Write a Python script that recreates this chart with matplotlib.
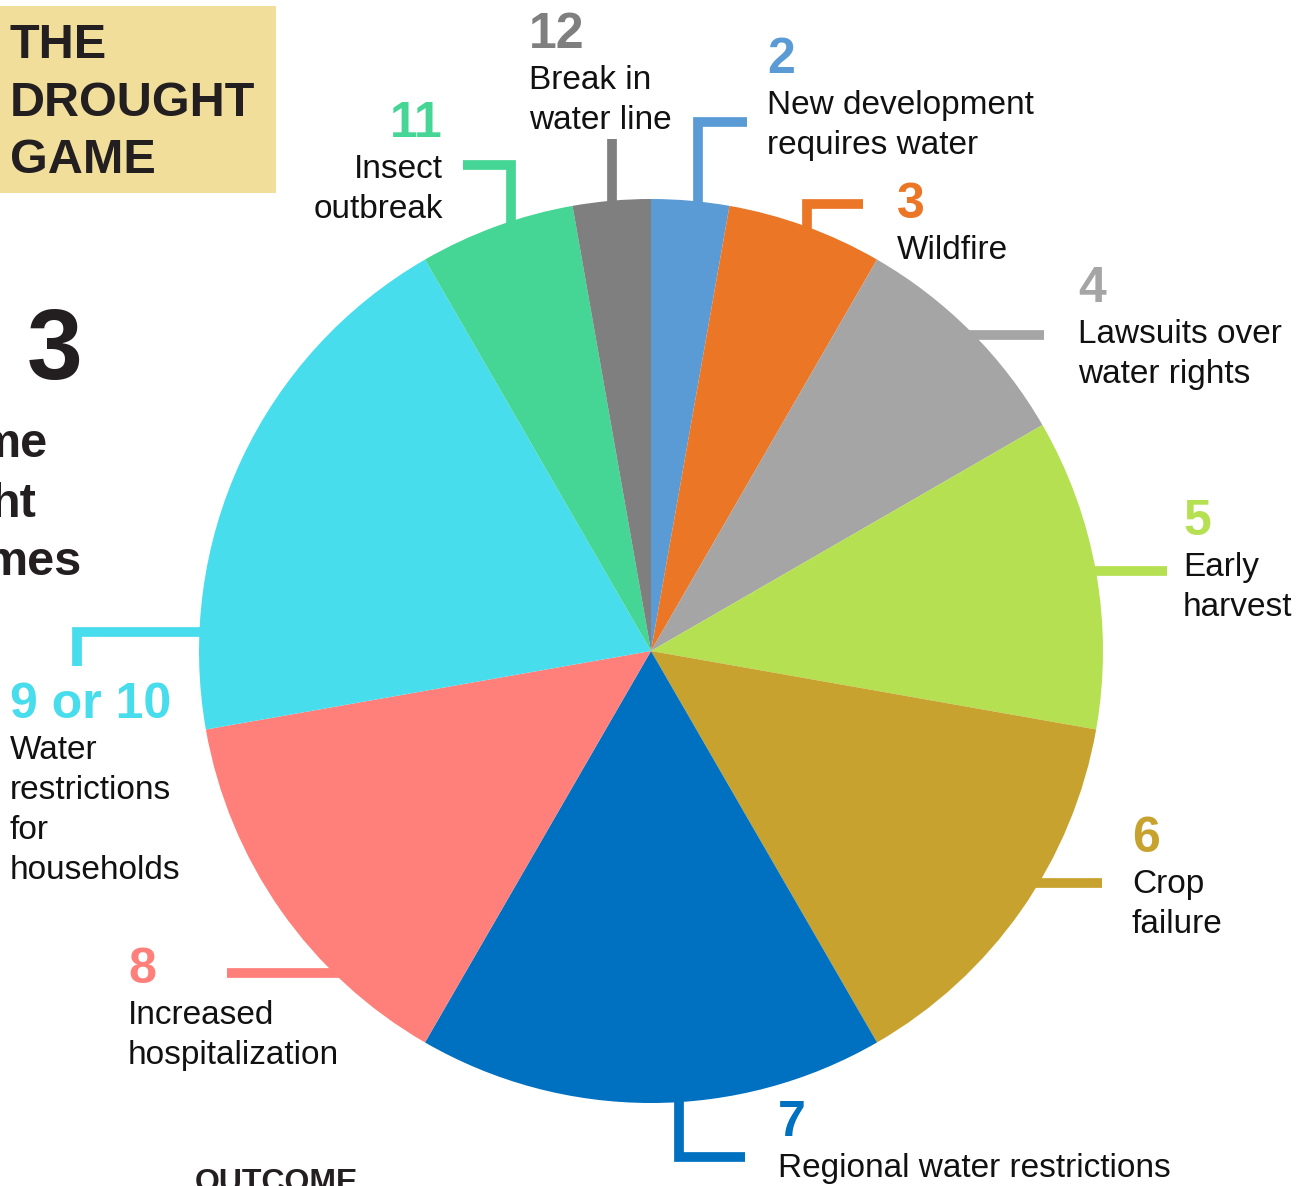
import numpy as np
import matplotlib.pyplot as plt
from matplotlib.patches import Rectangle

plt.rcParams['font.family'] = ['Liberation Sans', 'DejaVu Sans']

W, H = 1314, 1186

# dice totals and the number of ways (out of 36) to roll each with two dice
outcomes = ['2', '3', '4', '5', '6', '7', '8', '9 or 10', '11', '12']
ways = [1, 2, 3, 4, 5, 6, 5, 7, 2, 1]
events = [
    ['New development', 'requires water'],
    ['Wildfire'],
    ['Lawsuits over', 'water rights'],
    ['Early', 'harvest'],
    ['Crop', 'failure'],
    ['Regional water restrictions'],
    ['Increased', 'hospitalization'],
    ['Water', 'restrictions', 'for', 'households'],
    ['Insect', 'outbreak'],
    ['Break in', 'water line'],
]
colors = ['#5B9BD5', '#EA7626', '#A5A5A5', '#B5E051', '#C8A22F',
          '#0070C0', '#FF7F7A', '#48DDED', '#45D695', '#7F7F7F']

# pie geometry in pixels (y down)
CX, CY, R = 651, 651, 452

# label layout: anchor angle (clockwise from top), leader moves, text x, number baseline, align
layout = [
    (6.0,   [('y', 122), ('x', 747)],  767, 73,   'left'),
    (20.2,  [('y', 204), ('x', 863)],  897, 218,  'left'),
    (45.6,  [('x', 1044)],             1078, 302, 'left'),
    (79.8,  [('x', 1167)],             1183, 535, 'left'),
    (120.9, [('x', 1102)],             1132, 852, 'left'),
    (176.4, [('y', 1157), ('x', 745)], 778, 1136, 'left'),
    (224.5, [('x', 227)],              128, 983,  'left'),
    (272.4, [('x', 77), ('y', 666)],   10, 718,   'left'),
    (342.0, [('y', 165), ('x', 463)],  443, 137,  'right'),
    (355.0, [('y', 139)],              529, 48,   'left'),
]

fig = plt.figure(figsize=(W / 100, H / 100), dpi=100)
ax = fig.add_axes([0, 0, 1, 1])

# y axis is flipped, so counterclockwise in data is clockwise on screen
ax.pie(ways, colors=colors, startangle=-90, counterclock=True,
       radius=R, center=(CX, CY), wedgeprops=dict(linewidth=0), frame=False)
ax.set_xlim(0, W)
ax.set_ylim(H, 0)
ax.set_aspect('equal')
ax.axis('off')


def leader(angle, moves, color):
    a = np.radians(angle)
    x, y = CX + R * np.sin(a), CY - R * np.cos(a)
    pts = [(x, y)]
    for k, v in moves:
        if k == 'x':
            x = v
        else:
            y = v
        pts.append((x, y))
    (xa, ya), (xb, yb) = pts[0], pts[1]
    d = np.hypot(xb - xa, yb - ya)
    pts[0] = (xa - (xb - xa) / d * 25, ya - (yb - ya) / d * 25)
    xs, ys = zip(*pts)
    ax.plot(xs, ys, color=color, lw=7, solid_joinstyle='miter',
            solid_capstyle='butt', zorder=0)


for i in range(len(outcomes)):
    ang, moves, tx, base, ha = layout[i]
    leader(ang, moves, colors[i])
    ax.text(tx, base, outcomes[i], color=colors[i], fontsize=36,
            fontweight='bold', ha=ha, va='baseline')
    for j, line in enumerate(events[i]):
        ax.text(tx, base + 41 + 40 * j, line, color='#111111', fontsize=24,
                ha=ha, va='baseline')

# title box
ax.add_patch(Rectangle((0, 6), 276, 187, facecolor='#F2DE9B',
                       edgecolor='none', zorder=0))
for j, word in enumerate(['THE', 'DROUGHT', 'GAME']):
    ax.text(10, 58 + 57.5 * j, word, color='#231F20', fontsize=35,
            fontweight='bold', ha='left', va='baseline')

# text cut off by the left and bottom edges, as in the source
ax.text(82, 379, '3', color='#231F20', fontsize=72, fontweight='bold',
        ha='right', va='baseline')
for txt, xr, yb in [('me', 48, 457), ('ht', 36, 517), ('mes', 82, 575)]:
    ax.text(xr, yb, txt, color='#231F20', fontsize=35, fontweight='bold',
            ha='right', va='baseline')
ax.text(195, 1191, 'OUTCOME', color='#231F20', fontsize=23,
        fontweight='bold', ha='left', va='baseline')

fig.savefig('out.png', dpi=100)
